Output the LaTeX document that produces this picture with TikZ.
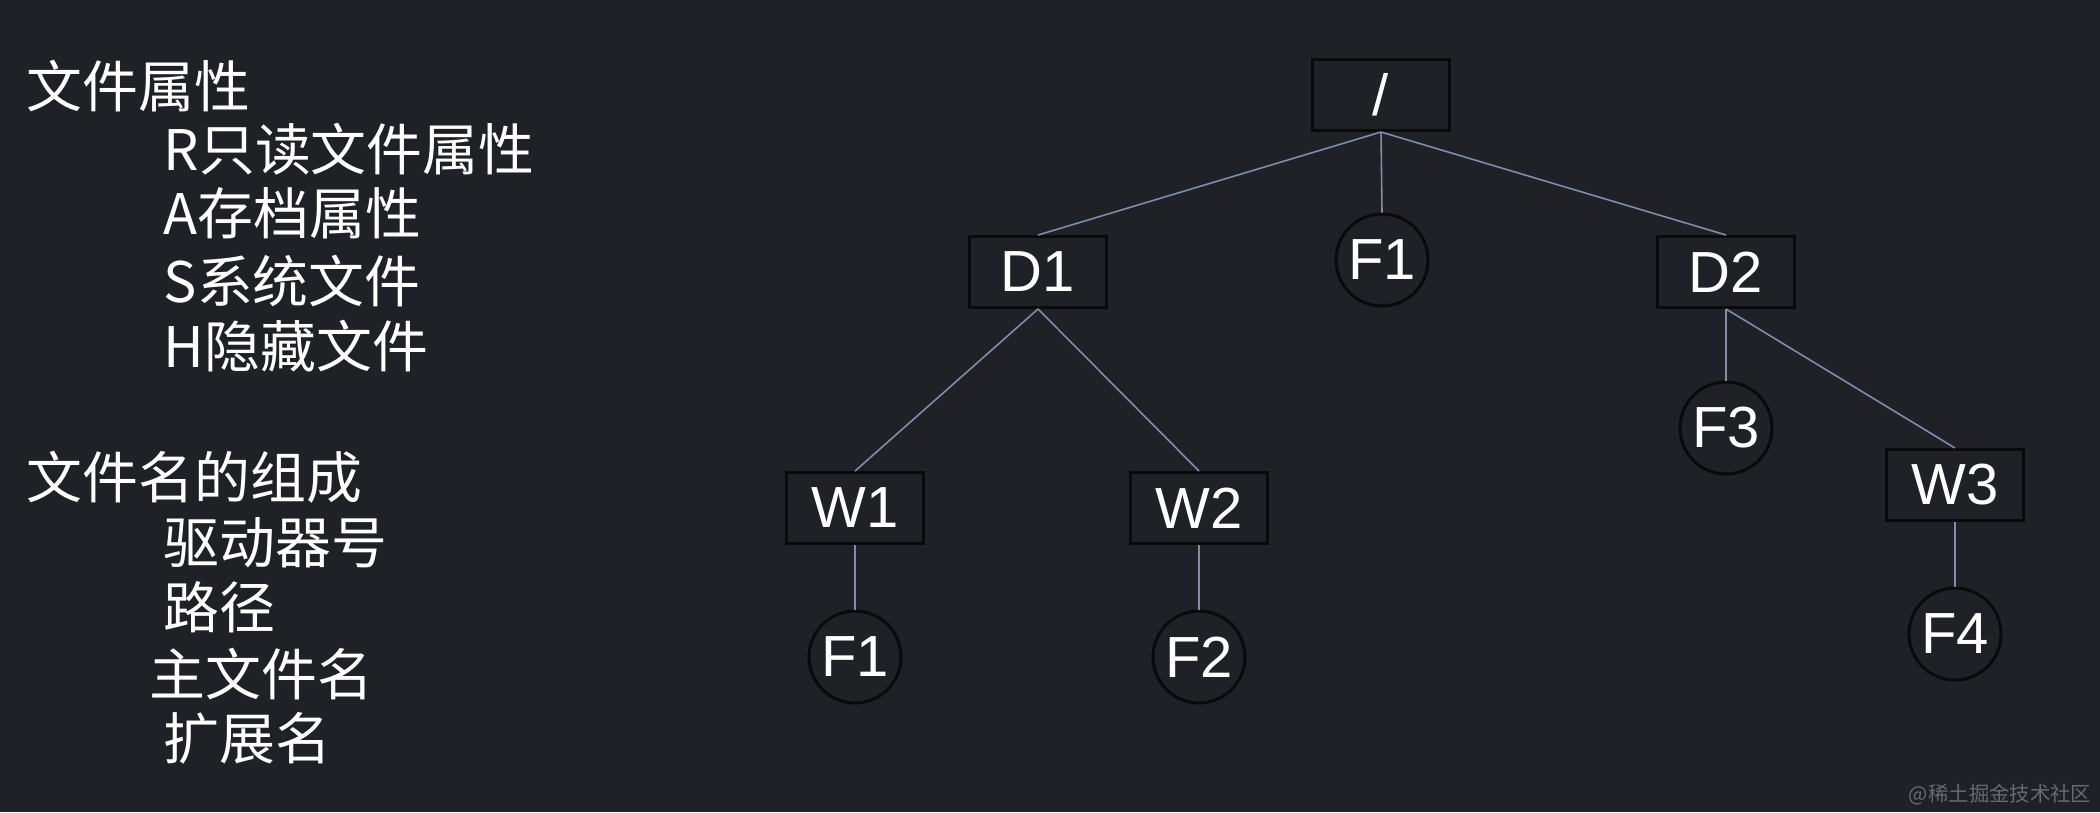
\documentclass[tikz,border=0pt]{standalone}
\usepackage{fontspec}
\setmainfont{Liberation Sans}
\newfontfamily\cjk{Noto Sans CJK SC}
\usepackage{tikz}

\definecolor{bgdark}{RGB}{32,33,39}
\definecolor{edgeblue}{RGB}{128,142,172}
\definecolor{boxline}{RGB}{10,10,12}
\definecolor{markgray}{RGB}{105,106,112}

\begin{document}
\begin{tikzpicture}[x = 0.1mm, y = -0.1mm,
	dirbox/.style = {draw = boxline, line width = 0.85pt, minimum width = 13.7mm,
		minimum height = 7.1mm, inner sep = 0pt, text = white,
		font = \fontsize{16.5}{18}\selectfont},
	filecirc/.style = {draw = boxline, line width = 0.85pt, circle, minimum size = 9.2mm,
		inner sep = 0pt, text = white, font = \fontsize{16.5}{18}\selectfont},
	edge/.style = {draw = edgeblue, line width = 0.45pt},
	note/.style = {anchor = west, inner sep = 0pt, text = white,
		font = \cjk\fontsize{15.9}{17}\selectfont}]

	% Definitions

	\def\headx{26}		% x of the two headings
	\def\itemx{163}		% x of the indented items

	% Background

	\fill [bgdark] (0, 0) rectangle (2100, 812);
	\useasboundingbox (0, 0) rectangle (2100, 812);

	% Notes on the left

	\node [note] (attr) at (\headx, 86) {文件属性};
	\node [note] (attr-r) at (\itemx, 149) {R只读文件属性};
	\node [note] (attr-a) at (\itemx, 213) {A存档属性};
	\node [note] (attr-s) at (\itemx, 281) {S系统文件};
	\node [note] (attr-h) at (\itemx, 346) {H隐藏文件};

	\node [note] (name) at (\headx, 477) {文件名的组成};
	\node [note] (name-drive) at (\itemx, 543) {驱动器号};
	\node [note] (name-path) at (\itemx, 607) {路径};
	\node [note] (name-main) at (149, 674) {主文件名};
	\node [note] (name-ext) at (\itemx, 738) {扩展名};

	% Directory tree

	\node [dirbox] (root) at (1381, 95) {/};

	\node [dirbox] (d1) at (1038, 272) {D1};
	\node [filecirc] (f1top) at (1382, 260) {F1};
	\node [dirbox] (d2) at (1726, 272) {D2};

	\node [dirbox] (w1) at (855, 508) {W1};
	\node [dirbox] (w2) at (1199, 508) {W2};
	\node [filecirc] (f3) at (1726, 428) {F3};
	\node [dirbox] (w3) at (1955, 485) {W3};

	\node [filecirc] (f1) at (855, 657) {F1};
	\node [filecirc] (f2) at (1199, 657) {F2};
	\node [filecirc] (f4) at (1955, 634) {F4};

	% Connectors

	\begin{scope}[edge]

		\draw (root.south) -- (d1.north);
		\draw (root.south) -- (f1top.north);
		\draw (root.south) -- (d2.north);

		\draw (d1.south) -- (w1.north);
		\draw (d1.south) -- (w2.north);
		\draw (d2.south) -- (f3.north);
		\draw (d2.south) -- (w3.north);

		\draw (w1.south) -- (f1.north);
		\draw (w2.south) -- (f2.north);
		\draw (w3.south) -- (f4.north);

	\end{scope}

	% Watermark

	\node [anchor = east, inner sep = 0pt, text = markgray, font = \cjk\fontsize{5.8}{7}\selectfont]
		(mark) at (2092, 795) {@稀土掘金技术社区};

\end{tikzpicture}
\end{document}
